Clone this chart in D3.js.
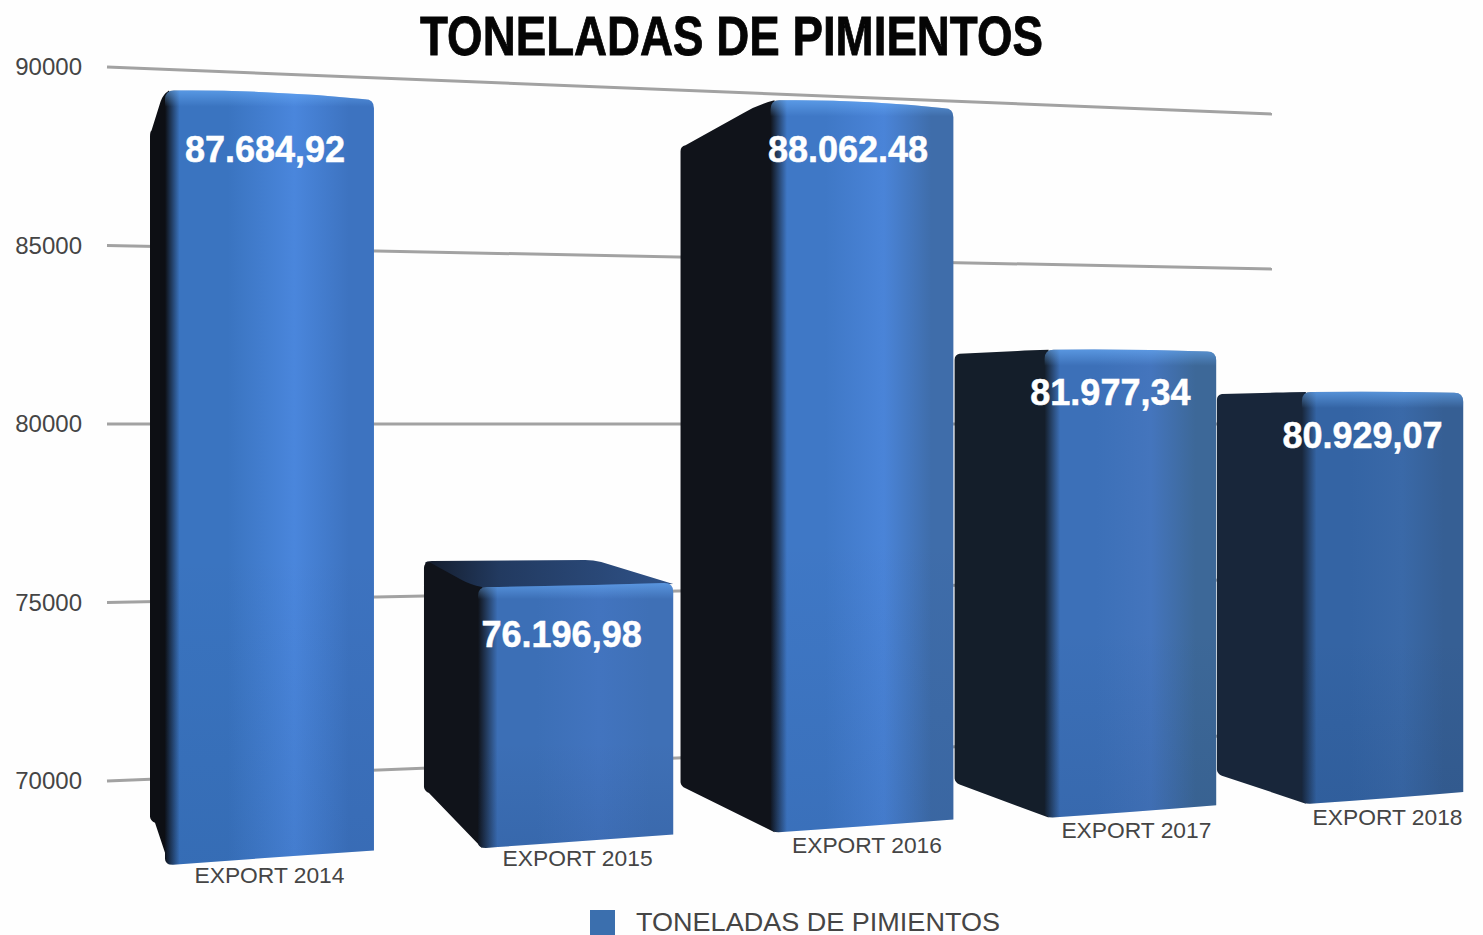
<!DOCTYPE html>
<html><head><meta charset="utf-8">
<script src="https://cdnjs.cloudflare.com/ajax/libs/d3/7.8.5/d3.min.js"></script>
<style>html,body{margin:0;padding:0;background:#fefefe;overflow:hidden}svg{display:block}</style>
</head><body><svg id="c" width="1483" height="935"></svg>
<script>
// ---------- data ----------
const categories = ["EXPORT 2014","EXPORT 2015","EXPORT 2016","EXPORT 2017","EXPORT 2018"];
const values = [87684.92,76196.98,88062.48,81977.34,80929.07];
const valueLabels = ["87.684,92","76.196,98","88.062.48","81.977,34","80.929,07"];
const yTicks = [70000,75000,80000,85000,90000];
const chartTitle = "TONELADAS DE PIMIENTOS";
const seriesName = "TONELADAS DE PIMIENTOS";

// ---------- view of the hand-skewed 3D scene ----------
const sideDepth   = [15,54,90,90,85];
const sideTopRise = [40,-25,45,4,2];
const sideBotRise = [-45,-58,-47,-36,-31];
const topDepth    = [0,80,0,0,0];
const labelShift  = [-4.5,-14,-14,-20,-20];
const labelDrop   = [67,62,58,54,56];
const catShift    = [0,2,5,6,5];
const catDrop     = [24,23,26,25,26];
const sideColor   = ["#0d0f14","#10131a","#10131a","#141e2a","#18263a"];
const faceDark    = ["#3a74c0","#3c6fb6","#3f78c6","#3c70b8","#3464a4"];
const faceLight   = ["#4a86dc","#4274bf","#4a84d8","#4475bd","#3a69a8"];
const faceEdge    = ["#3d73c0","#3f70b6","#3f6daa","#3d6898","#365f94"];
const faceStart   = [.07,.1,.09,.09,.09];

const svg = d3.select("#c");
const defs = svg.append("defs");
const band = d3.scaleBand().domain(categories).range([0,4.66]).paddingInner(.34).paddingOuter(0);
const px = u => 165 + 323.9*u/(1+.0349*u);            // floor position -> screen x
const k = d3.scaleLinear().domain([160,1463]).range([.0438,.0368]); // px per tonne at screen x
const floorY = d3.scaleLinear().domain([160,1463]).range([865,795]);
const baseValue = 70000;
const frontY = (v,x) => floorY(x) - (v-baseValue)*k(x);

// back wall
const yLeft  = d3.scaleLinear().domain([70000,90000]).range([781,67]);
const yRight = d3.scaleLinear().domain([70000,90000]).range([734,114]);
const wallX = [107,1272];

svg.append("g").selectAll("line").data(yTicks).join("line")
  .attr("x1",wallX[0]).attr("x2",wallX[1])
  .attr("y1",d=>yLeft(d)).attr("y2",d=>yRight(d))
  .attr("stroke","#a2a2a2").attr("stroke-width",3);

const axis = d3.axisLeft(yLeft).tickValues(yTicks).tickSize(0).tickPadding(0).tickFormat(d3.format("d"));
const ag = svg.append("g").attr("transform","translate(82,0)").call(axis);
ag.select(".domain").remove();
ag.selectAll("text").attr("font-family","'Liberation Sans',Arial,sans-serif").attr("font-size",24).attr("fill","#454545").attr("dy","0.32em");

// bars drawn right to left so that nearer fronts cover the next side
const order = d3.range(categories.length).reverse();
order.forEach(i=>{
  const c = categories[i], v = values[i];
  const x0 = px(band(c)), x1 = px(band(c)+band.bandwidth());
  const t0 = frontY(v,x0), t1 = frontY(v,x1), b0 = floorY(x0), b1 = floorY(x1);
  const bx = x0 - sideDepth[i];
  const bt = t0 + sideTopRise[i], bb = b0 + sideBotRise[i];

  // top face goes under the side, so the two share their edge
  if(topDepth[i]>0){
    const tf = d3.path();
    tf.moveTo(bx+1,bt+1);
    tf.quadraticCurveTo(bx+2,bt-1,bx+8,bt-1);
    tf.lineTo(x1-topDepth[i]-8,t1+sideTopRise[i]+2);
    tf.quadraticCurveTo(x1-topDepth[i],t1+sideTopRise[i]+2,x1-topDepth[i]+8,t1+sideTopRise[i]+4);
    tf.lineTo(x1,t1+1);
    tf.lineTo(x0+6,t0+4);
    tf.lineTo(bx+8,bt+10);
    tf.closePath();
    const gid="top"+i;
    const tg=defs.append("linearGradient").attr("id",gid).attr("x1",0).attr("x2",1).attr("y1",0).attr("y2",0);
    tg.append("stop").attr("offset",0).attr("stop-color","#141c2b");
    tg.append("stop").attr("offset",.3).attr("stop-color","#223a60");
    tg.append("stop").attr("offset",1).attr("stop-color","#2f5288");
    svg.append("path").attr("d",tf.toString()).attr("fill",`url(#${gid})`);
  }

  // side
  const s = d3.path();
  s.moveTo(x0+4,t0);
  s.quadraticCurveTo(x0-sideDepth[i]*.15,t0+sideTopRise[i]*.1, x0-sideDepth[i]*.3,t0+sideTopRise[i]*.28);
  s.lineTo(bx+Math.min(5,sideDepth[i]*.1),bt);
  s.quadraticCurveTo(bx,bt+1,bx,bt+6);
  s.lineTo(bx,bb-3);
  s.quadraticCurveTo(bx+.5,bb+1,bx+Math.min(5,sideDepth[i]*.4),bb+3);
  s.lineTo(x0+4,b0);
  s.closePath();
  svg.append("path").attr("d",s.toString()).attr("fill",sideColor[i]);

  // front
  const r = 9;
  const f = d3.path();
  f.moveTo(x0,b0-6);
  f.lineTo(x0,t0+r);
  f.quadraticCurveTo(x0,t0,x0+r,t0);
  f.quadraticCurveTo((x0+x1)/2,t0-1,x1-r,t1);
  f.quadraticCurveTo(x1,t1,x1,t1+r);
  f.lineTo(x1,b1-3);
  f.quadraticCurveTo((x0+x1)/2,b1+4,x0+8,b0);
  f.quadraticCurveTo(x0,b0,x0,b0-6);
  f.closePath();
  const g = defs.append("linearGradient").attr("id","f"+i).attr("x1",0).attr("x2",1).attr("y1",0).attr("y2",0);
  [[0,sideColor[i]],[faceStart[i],faceDark[i]],[.3,faceDark[i]],[.62,faceLight[i]],[.88,faceEdge[i]],[1,faceEdge[i]]]
    .forEach(([o,col])=>g.append("stop").attr("offset",o).attr("stop-color",col));
  svg.append("path").attr("d",f.toString()).attr("fill",`url(#f${i})`);

  // top sheen + slight darkening toward floor
  const hTop = Math.min(t0,t1), hBot = Math.max(b0,b1);
  const sh = defs.append("linearGradient").attr("id","s"+i).attr("gradientUnits","userSpaceOnUse")
     .attr("x1",0).attr("x2",0).attr("y1",hTop).attr("y2",hBot);
  const span = hBot-hTop;
  sh.append("stop").attr("offset",0).attr("stop-color","#6fb4ff").attr("stop-opacity",.55);
  sh.append("stop").attr("offset",16/span).attr("stop-color","#6fb4ff").attr("stop-opacity",0);
  sh.append("stop").attr("offset",.6).attr("stop-color","#0d2a55").attr("stop-opacity",0);
  sh.append("stop").attr("offset",1).attr("stop-color","#0d2a55").attr("stop-opacity",.1);
  svg.append("path").attr("d",f.toString()).attr("fill",`url(#s${i})`);

  // value label
  svg.append("text").text(valueLabels[i])
    .attr("x",(x0+x1)/2+labelShift[i]).attr("y",(t0+t1)/2+labelDrop[i])
    .attr("text-anchor","middle").attr("font-family","'Liberation Sans',Arial,sans-serif")
    .attr("font-weight",700).attr("font-size",36).attr("fill","#fff")
    .attr("stroke","#fff").attr("stroke-width",.5);

  // category label
  const xc=(x0+x1)/2;
  svg.append("text").text(c)
    .attr("x",xc+catShift[i]).attr("y",floorY(xc)+catDrop[i])
    .attr("text-anchor","middle").attr("font-family","'Liberation Sans',Arial,sans-serif")
    .attr("font-size",22.8).attr("fill","#454545");
});

// title
svg.append("text").text(chartTitle).attr("x",731.5).attr("y",55).attr("text-anchor","middle")
  .attr("font-family","'Liberation Sans Narrow','Liberation Sans',sans-serif").attr("font-weight",700)
  .attr("font-size",56).attr("textLength",623).attr("lengthAdjust","spacingAndGlyphs")
  .attr("fill","#050505").attr("stroke","#050505").attr("stroke-width",.8);

// legend
const leg = svg.append("g");
leg.append("rect").attr("x",590).attr("y",910).attr("width",25).attr("height",25).attr("fill","#3b6fae");
leg.append("text").text(seriesName).attr("x",636).attr("y",931)
  .attr("font-family","'Liberation Sans',Arial,sans-serif").attr("font-size",25.5)
  .attr("textLength",364).attr("lengthAdjust","spacingAndGlyphs").attr("fill","#454545");
</script></body></html>
